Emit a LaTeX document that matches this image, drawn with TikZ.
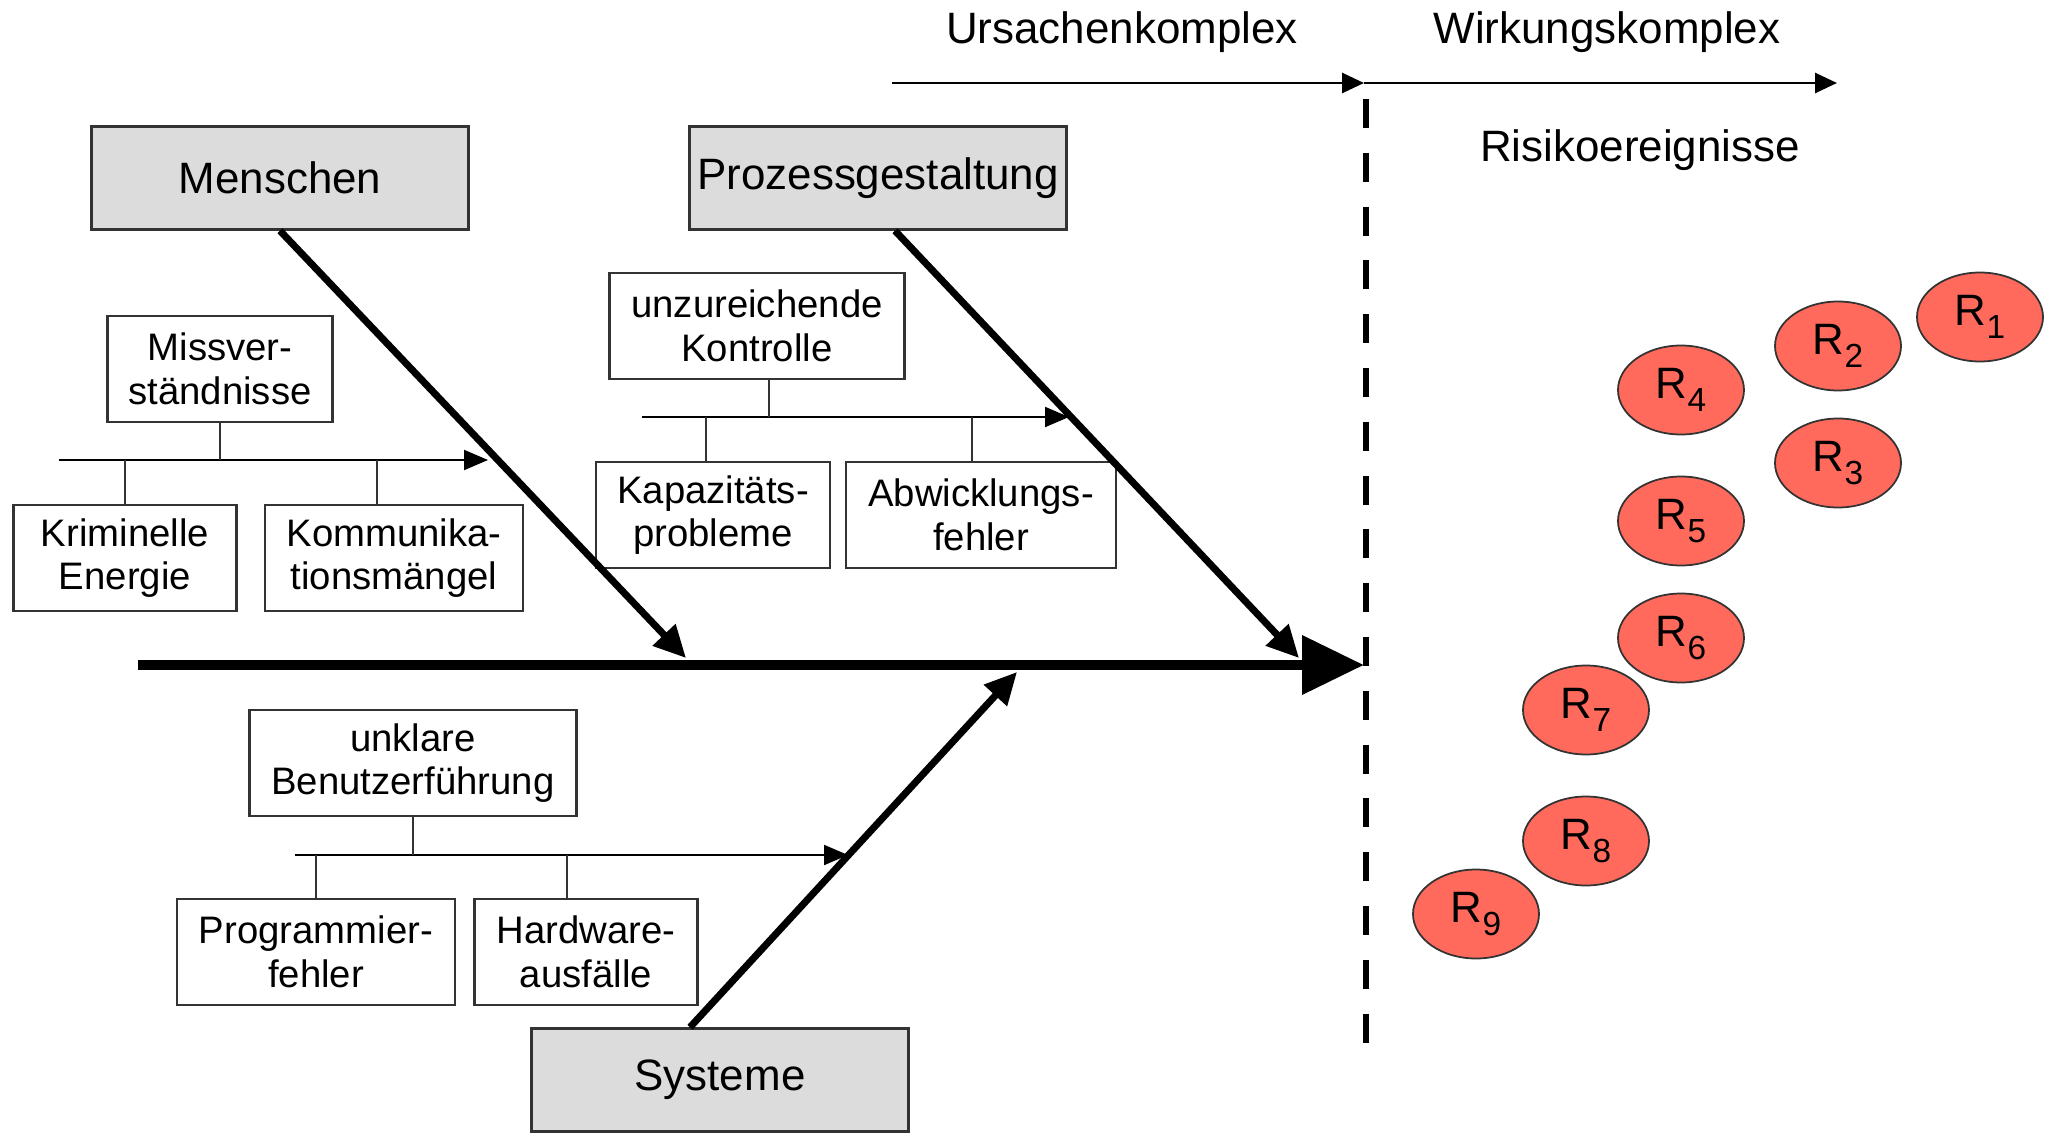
\documentclass[tikz,border=0pt]{standalone}
\usepackage{fontspec}
\setmainfont{Liberation Sans}
\usetikzlibrary{shapes.geometric,arrows.meta}
\definecolor{causegray}{HTML}{DCDCDC}
\definecolor{riskred}{HTML}{FF6A5C}
\definecolor{boxline}{HTML}{333333}

\begin{document}
\begin{tikzpicture}[
		cause/.style={rectangle, draw=boxline, fill=causegray, line width=0.7pt, minimum width=3.77cm, minimum height=1.03cm, inner xsep=1pt, font=\fontsize{12.5}{15}\selectfont},
		sub/.style={rectangle, draw=boxline, fill=white, line width=0.6pt, minimum height=1.06cm, inner xsep=2pt, align=center, font=\fontsize{10.9}{12.4}\selectfont},
		risk/.style={ellipse, draw=black!80, fill=riskred, line width=0.5pt, minimum width=1.26cm, minimum height=0.89cm, inner sep=0pt, font=\fontsize{12.5}{15}\selectfont},
		heading/.style={font=\fontsize{12.5}{15}\selectfont},
		bone/.style={-{Triangle[length=0.32cm,width=0.3cm]}, line width=2pt},
		twig/.style={-{Triangle[length=0.24cm,width=0.2cm]}, line width=0.6pt},
		stem/.style={line width=0.6pt, draw=boxline},
		flow/.style={-{Triangle[length=0.22cm,width=0.2cm]}, line width=0.8pt}
	]
		\useasboundingbox (0,0) rectangle (20.57,-11.43);

		% Cause categories
		\node[cause] (men) at (2.80,-1.78) {Menschen};
		\node[cause] (proz) at (8.78,-1.78) {Prozessgestaltung};
		\node[cause] (sys) at (7.20,-10.80) {Systeme};

		% Menschen
		\node[sub, minimum width=2.25cm] (mis) at (2.20,-3.69) {Missver-\\ständnisse};
		\node[sub, minimum width=2.23cm] (kri) at (1.25,-5.58) {Kriminelle\\Energie};
		\node[sub, minimum width=2.58cm] (kom) at (3.94,-5.58) {Kommunika-\\tionsmängel};

		% Prozessgestaltung
		\node[sub, minimum width=2.95cm] (unz) at (7.57,-3.26) {unzureichende\\Kontrolle};
		\node[sub, minimum width=2.34cm] (kap) at (7.13,-5.15) {Kapazitäts-\\probleme};
		\node[sub, minimum width=2.70cm] (abw) at (9.81,-5.15) {Abwicklungs-\\fehler};

		% Systeme
		\node[sub, minimum width=3.27cm] (unk) at (4.13,-7.63) {unklare\\Benutzerführung};
		\node[sub, minimum width=2.78cm] (pro) at (3.16,-9.52) {Programmier-\\fehler};
		\node[sub, minimum width=2.23cm] (har) at (5.86,-9.52) {Hardware-\\ausfälle};

		% Spine
		\coordinate (tail) at (1.38,-6.65);
		\coordinate (head) at (13.64,-6.65);
		\draw[line width=3pt, -{Triangle[length=0.62cm,width=0.57cm]}] (tail) -- (head);

		% Bones
		\coordinate (mtip) at (6.86,-6.58);
		\coordinate (ptip) at (12.99,-6.58);
		\coordinate (stip) at (10.17,-6.72);
		\draw[bone] (men.south) -- (mtip);
		\draw[bone] ([xshift=1.7mm]proz.south) -- (ptip);
		\draw[bone] ([xshift=-3mm]sys.north) -- (stip);

		% Twigs
		\coordinate (ma) at (0.59,-4.60);
		\coordinate (mb) at (4.88,-4.60);
		\draw[twig] (ma) -- (mb);
		\draw[stem] (mis.south) -- (mis.south |- ma);
		\draw[stem] (kri.north) -- (kri.north |- ma);
		\draw[stem] ([xshift=-1.7mm]kom.north) -- ([xshift=-1.7mm]kom.north |- ma);

		\coordinate (pa) at (6.42,-4.17);
		\coordinate (pb) at (10.69,-4.17);
		\draw[twig] (pa) -- (pb);
		\draw[stem] ([xshift=1.2mm]unz.south) -- ([xshift=1.2mm]unz.south |- pa);
		\draw[stem] ([xshift=-0.7mm]kap.north) -- ([xshift=-0.7mm]kap.north |- pa);
		\draw[stem] ([xshift=-0.9mm]abw.north) -- ([xshift=-0.9mm]abw.north |- pa);

		\coordinate (sa) at (2.95,-8.55);
		\coordinate (sb) at (8.48,-8.55);
		\draw[twig] (sa) -- (sb);
		\draw[stem] (unk.south) -- (unk.south |- sa);
		\draw[stem] (pro.north) -- (pro.north |- sa);
		\draw[stem] ([xshift=-1.9mm]har.north) -- ([xshift=-1.9mm]har.north |- sa);

		% Top axis
		\coordinate (ua) at (8.92,-0.83);
		\coordinate (mid) at (13.64,-0.83);
		\coordinate (wb) at (18.37,-0.83);
		\draw[flow] (ua) -- (mid);
		\draw[flow] (mid) -- (wb);
		\node[heading] (ursa) at (11.22,-0.32) {Ursachenkomplex};
		\node[heading] (wirk) at (16.07,-0.32) {Wirkungskomplex};
		\node[heading] (risl) at (16.40,-1.50) {Risikoereignisse};

		% Border
		\coordinate (da) at (13.66,-0.99);
		\coordinate (db) at (13.66,-10.43);
		\draw[line width=1.8pt, dash pattern=on 0.29cm off 0.248cm] (da) -- (db);

		% Risk events
		\foreach \i/\x/\y in {1/19.80/-3.17, 2/18.38/-3.46, 3/18.38/-4.63, 4/16.81/-3.90, 5/16.81/-5.21, 6/16.81/-6.38, 7/15.86/-7.10, 8/15.86/-8.41, 9/14.76/-9.14}
			\node[risk] (r\i) at (\x,\y) {R\raisebox{-0.55ex}{\fontsize{9.5}{10}\selectfont\i}};
	\end{tikzpicture}
\end{document}
